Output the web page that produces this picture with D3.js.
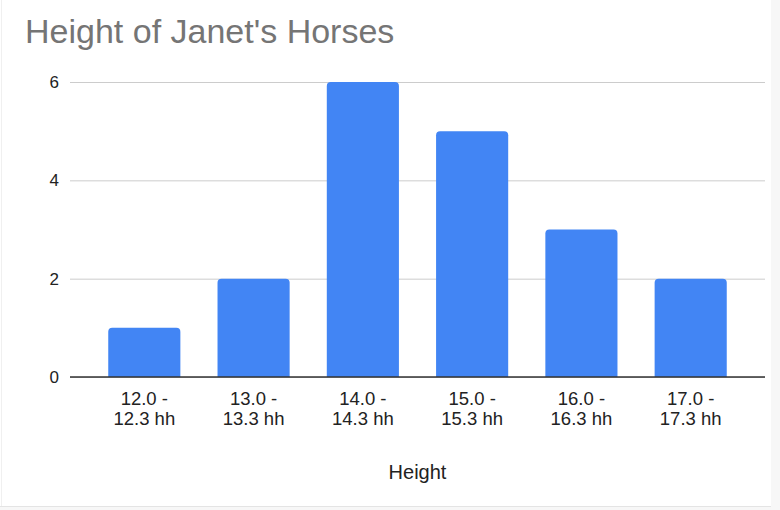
<!DOCTYPE html>
<html>
<head>
<meta charset="utf-8">
<script src="https://cdn.jsdelivr.net/npm/d3@7"></script>
<style>
  html, body { margin: 0; padding: 0; background: #f7f7f7; }
  text { font-family: Arial, "Liberation Sans", sans-serif; }
</style>
</head>
<body>
<div id="viz"></div>
<script>
  const categories = ['12.0 - 12.3 hh', '13.0 - 13.3 hh', '14.0 - 14.3 hh', '15.0 - 15.3 hh', '16.0 - 16.3 hh', '17.0 - 17.3 hh'];
  const counts = [1, 2, 6, 5, 3, 2];
  const yTicks = [0, 2, 4, 6];
  const title = "Height of Janet's Horses";
  const xTitle = 'Height';

  const W = 780, H = 510;
  const plot = { left: 70, right: 765, top: 82, bottom: 377 };

  const svg = d3.select('#viz')
    .append('svg')
    .attr('width', W)
    .attr('height', H);

  // card background
  svg.append('rect')
    .attr('x', 0).attr('y', 0)
    .attr('width', 771).attr('height', 506)
    .style('fill', '#fff');
  svg.append('line')
    .attr('x1', 0).attr('x2', 771)
    .attr('y1', 506.5).attr('y2', 506.5)
    .style('stroke', '#e4e4e4');
  svg.append('line')
    .attr('x1', 1.5).attr('x2', 1.5)
    .attr('y1', 0).attr('y2', 506)
    .style('stroke', '#f0f0f0');

  const x = d3.scaleBand()
    .domain(categories)
    .range([plot.left, plot.right])
    .paddingInner(0.34)
    .paddingOuter(0.35);

  const y = d3.scaleLinear()
    .domain([0, 6])
    .range([plot.bottom, plot.top]);

  // y axis + gridlines
  const yAxis = svg.append('g')
    .attr('transform', `translate(${plot.left},0)`)
    .call(d3.axisLeft(y)
      .tickValues(yTicks)
      .tickFormat(d3.format('d'))
      .tickSize(-(plot.right - plot.left))
      .tickPadding(11));
  yAxis.select('.domain').remove();
  yAxis.selectAll('.tick line').style('stroke', '#cccccc');
  yAxis.selectAll('.tick text')
    .style('font-size', '17px')
    .style('fill', '#222');

  // bars with rounded tops
  const r = 4;
  svg.selectAll('.bar')
    .data(counts)
    .join('path')
    .attr('class', 'bar')
    .attr('d', (d, i) => {
      const x0 = x(categories[i]), x1 = x0 + x.bandwidth();
      const y0 = y(0), y1 = y(d);
      return `M${x0},${y0}V${y1 + r}Q${x0},${y1} ${x0 + r},${y1}H${x1 - r}Q${x1},${y1} ${x1},${y1 + r}V${y0}Z`;
    })
    .style('fill', '#4285f4');

  // baseline
  svg.append('line')
    .attr('x1', plot.left).attr('x2', plot.right)
    .attr('y1', y(0)).attr('y2', y(0))
    .style('stroke', '#333')
    .style('stroke-width', 1.3);

  // x axis labels (two lines)
  const xAxis = svg.append('g')
    .attr('transform', `translate(0,${plot.bottom})`)
    .call(d3.axisBottom(x).tickSize(0).tickFormat(''));
  xAxis.select('.domain').remove();
  xAxis.selectAll('.tick').each(function (d) {
    const parts = d.split(' - ');
    const t = d3.select(this).select('text')
      .attr('y', 0)
      .attr('dy', null)
      .style('font-size', '18.5px')
      .style('fill', '#222');
    t.append('tspan').attr('x', 0).attr('y', 28).text(parts[0] + ' -');
    t.append('tspan').attr('x', 0).attr('y', 48).text(parts[1]);
  });

  // titles
  svg.append('text')
    .attr('x', 25)
    .attr('y', 43)
    .text(title)
    .style('font-size', '34px')
    .style('fill', '#757575');

  svg.append('text')
    .attr('x', (plot.left + plot.right) / 2)
    .attr('y', 479)
    .attr('text-anchor', 'middle')
    .text(xTitle)
    .style('font-size', '20px')
    .style('fill', '#222');
</script>
</body>
</html>
